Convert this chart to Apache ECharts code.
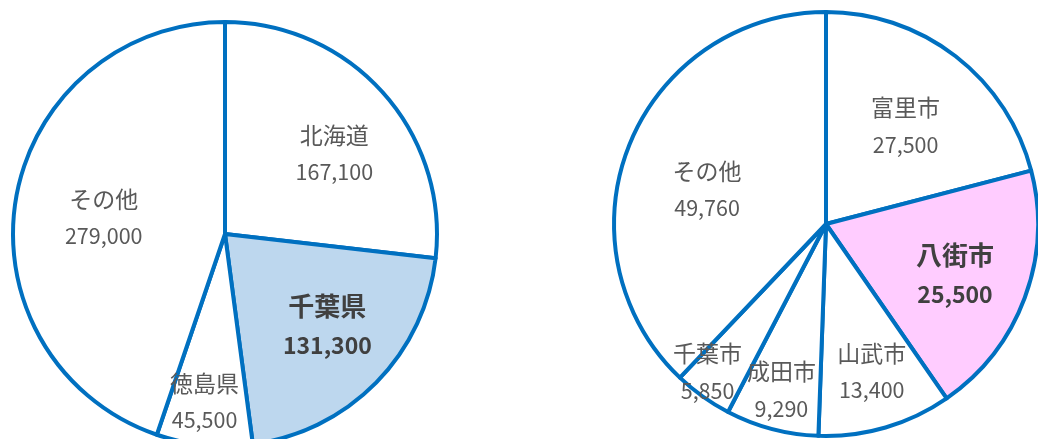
<!DOCTYPE html>
<html><head><meta charset="utf-8">
<script src="https://cdn.jsdelivr.net/npm/echarts@6/dist/echarts.min.js"></script>
<style>html,body{margin:0;padding:0;background:#fff}#c{width:1038px;height:439px}</style>
</head><body><div id="c"></div>
<script>
// ---- data ----
const leftNames = ['北海道', '千葉県', '徳島県', 'その他'];
const leftValues = [167100, 131300, 45500, 279000];
const rightNames = ['富里市', '八街市', '山武市', '成田市', '千葉市', 'その他'];
const rightValues = [27500, 25500, 13400, 9290, 5850, 49760];

// ---- styles ----
const leftFill = ['#ffffff', '#BDD7EE', '#ffffff', '#ffffff'];
const rightFill = ['#ffffff', '#FFCCFF', '#ffffff', '#ffffff', '#ffffff', '#ffffff'];
const leftBold = [false, true, false, false];
const rightBold = [false, true, false, false, false, false];
const leftLabelR = [0.62, 0.63, 0.78, 0.58];
const rightLabelR = [0.60, 0.66, 0.72, 0.81, 0.89, 0.59];
const leftLabelShift = [[9, 9], [5, -4], [-4, 0], [3, 4]];
const rightLabelShift = [[0, 5], [-5, 1], [2, -2], [0, -3], [-7, -8], [0, 13]];
const FONT = '"Noto Sans CJK JP", "Noto Sans", sans-serif';
const EDGE = '#0070C0';

const rich = {
  n: {fontSize: 23, color: '#595959', lineHeight: 37, fontFamily: FONT},
  v: {fontSize: 21.5, color: '#595959', lineHeight: 37, fontFamily: FONT},
  nb: {fontSize: 26, color: '#404040', fontWeight: 'bold', lineHeight: 40, fontFamily: FONT},
  vb: {fontSize: 23, color: '#404040', fontWeight: 'bold', lineHeight: 40, fontFamily: FONT}
};

function makePie(names, values, fills, bolds, dists, shifts, center, r) {
  const series = [];
  series.push({
    type: 'pie', center: center, radius: r, startAngle: 90, clockwise: true,
    silent: true, animation: false, emphasis: {disabled: true},
    label: {show: false}, labelLine: {show: false},
    itemStyle: {borderColor: EDGE, borderWidth: 4},
    data: names.map((n, i) => ({name: n, value: values[i], itemStyle: {color: fills[i]}}))
  });
  const uniq = [...new Set(dists)];
  uniq.forEach(d => {
    series.push({
      type: 'pie', center: center, radius: [0, 2 * d * r], startAngle: 90, clockwise: true,
      silent: true, animation: false, emphasis: {disabled: true}, z: 5,
      labelLine: {show: false},
      itemStyle: {color: 'rgba(0,0,0,0)', borderWidth: 0},
      label: {
        position: 'inside', rich: rich,
        formatter: p => {
          const b = bolds[p.dataIndex];
          const v = echarts.format.addCommas(p.value);
          return b ? '{nb|' + p.name + '}\n{vb|' + v + '}' : '{n|' + p.name + '}\n{v|' + v + '}';
        }
      },
      data: names.map((n, i) => ({name: n, value: values[i],
        label: {show: dists[i] === d, offset: shifts[i]}}))
    });
  });
  return series;
}

const chart = echarts.init(document.getElementById('c'), null, {renderer: 'canvas'});
chart.setOption({
  animation: false,
  series: [
    ...makePie(leftNames, leftValues, leftFill, leftBold, leftLabelR, leftLabelShift, [225, 234], 212),
    ...makePie(rightNames, rightValues, rightFill, rightBold, rightLabelR, rightLabelShift, [826, 224], 212)
  ]
});
</script>
</body></html>
